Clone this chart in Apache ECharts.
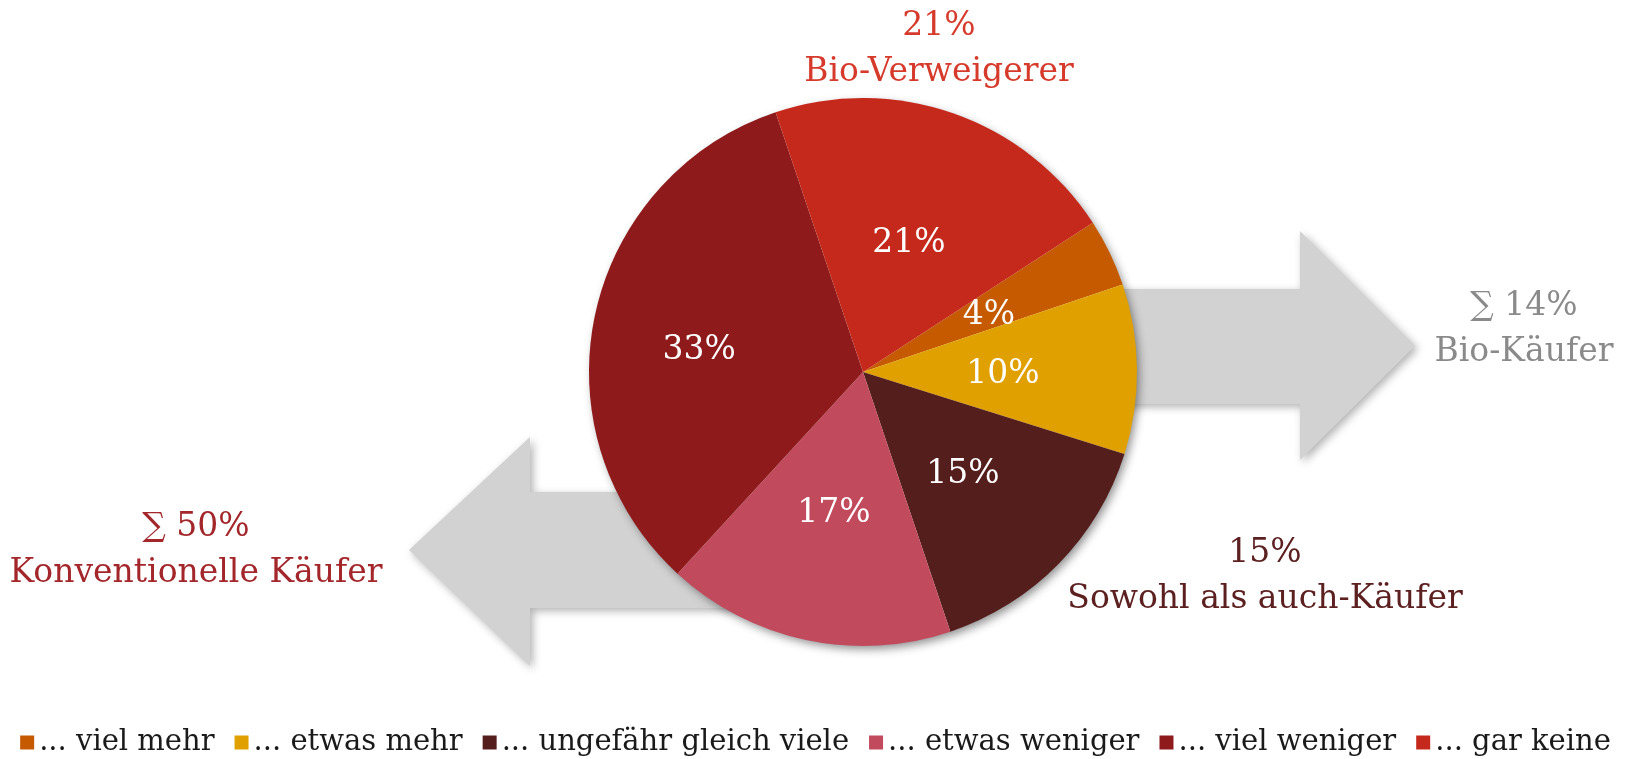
<!DOCTYPE html>
<html>
<head>
<meta charset="utf-8">
<script src="https://cdn.jsdelivr.net/npm/echarts@6/dist/echarts.min.js"></script>
<style>
  html, body { margin: 0; padding: 0; background: #fff; }
  #main { width: 1631px; height: 759px; }
</style>
</head>
<body>
<div id="main"></div>
<script>
// Antwortkategorien und Anteile (%)
var categories = ['... viel mehr', '... etwas mehr', '... ungefähr gleich viele', '... etwas weniger', '... viel weniger', '... gar keine'];
var values = [4, 10, 15, 17, 33, 21];
var colors = ['#c55a00', '#e0a000', '#541e1c', '#c24a5d', '#8e1a1c', '#c5291c'];

// Gruppen (Indizes in categories)
var groupNames = ['Bio-Verweigerer', 'Bio-Käufer', 'Konventionelle Käufer', 'Sowohl als auch-Käufer'];
var groupMembers = [[5], [0, 1], [3, 4], [2]];
var groupSigma = [false, true, true, false];
var groupColors = ['#d63a2b', '#8a8a8a', '#a3262a', '#5c2020'];

var FONT = '"DejaVu Serif", Georgia, serif';

function groupText(i) {
    var sum = 0;
    for (var k = 0; k < groupMembers[i].length; k++) {
        sum += values[groupMembers[i][k]];
    }
    return (groupSigma[i] ? '\u2211 ' : '') + sum + '%\n' + groupNames[i];
}

var myChart = echarts.init(document.getElementById('main'));

var pieData = [];
for (var i = 0; i < categories.length; i++) {
    var item = { name: categories[i], value: values[i] };
    // das große Segment: Beschriftung etwas weiter nach außen
    if (values[i] > 30) {
        item.label = { offset: [-27, 8] };
    } else {
        item.label = { offset: [0, 4] };
    }
    pieData.push(item);
}

// Lage der Gruppenbeschriftungen
var groupPos = [[939, 49], [1524, 329], [196, 550], [1265, 576]];
var texts = [];
for (var g = 0; g < groupNames.length; g++) {
    texts.push({
        type: 'text',
        z: 10,
        x: groupPos[g][0],
        y: groupPos[g][1],
        style: {
            text: groupText(g),
            fill: groupColors[g],
            fontFamily: FONT,
            fontSize: 33,
            lineHeight: 46,
            align: 'center',
            verticalAlign: 'middle'
        }
    });
}

var arrowStyle = {
    fill: '#d2d2d2',
    shadowBlur: 8,
    shadowOffsetX: 3,
    shadowOffsetY: 3,
    shadowColor: 'rgba(0,0,0,0.3)'
};

var option = {
    backgroundColor: '#ffffff',
    animation: false,
    color: colors,
    legend: {
        data: categories,
        left: 'center',
        top: 723,
        icon: 'rect',
        itemWidth: 14,
        itemHeight: 14,
        itemGap: 20,
        textStyle: { fontFamily: FONT, fontSize: 29, color: '#1a1a1a' }
    },
    graphic: [
        {
            type: 'polygon', z: 0,
            shape: { points: [[1100, 289], [1300, 289], [1300, 231], [1415, 346], [1300, 460], [1300, 404], [1100, 404]] },
            style: arrowStyle
        },
        {
            type: 'polygon', z: 0,
            shape: { points: [[760, 492], [530, 492], [530, 437], [409, 550], [530, 666], [530, 608], [760, 608]] },
            style: arrowStyle
        }
    ].concat(texts),
    series: [
        {
            // Schatten unter dem Kreis
            type: 'pie',
            silent: true,
            z: 1,
            center: [863, 372],
            radius: 273,
            label: { show: false },
            labelLine: { show: false },
            data: [{ value: 1, name: '' }],
            itemStyle: {
                color: '#ffffff',
                shadowBlur: 10,
                shadowOffsetX: 3,
                shadowOffsetY: 4,
                shadowColor: 'rgba(0,0,0,0.45)'
            }
        },
        {
            type: 'pie',
            z: 3,
            center: [863, 372],
            radius: 274,
            startAngle: 33,
            clockwise: true,
            avoidLabelOverlap: false,
            emphasis: { disabled: true },
            itemStyle: { borderWidth: 0 },
            label: {
                show: true,
                position: 'inner',
                formatter: '{c}%',
                color: '#ffffff',
                fontFamily: FONT,
                fontSize: 33
            },
            labelLine: { show: false },
            data: pieData
        }
    ]
};

myChart.setOption(option);
</script>
</body>
</html>
